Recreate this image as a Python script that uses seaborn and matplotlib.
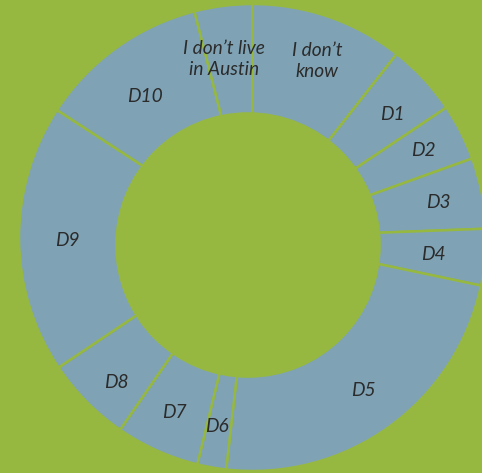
import matplotlib
matplotlib.use("Agg")
import matplotlib.pyplot as plt
from matplotlib.patches import Circle
import seaborn as sns

# Share of responses by council district (percent)
categories = ["I don’t\nknow", "D1", "D2", "D3", "D4", "D5", "D6", "D7",
              "D8", "D9", "D10", "I don’t live\nin Austin"]
shares = [10.6, 5.0, 3.9, 4.9, 3.9, 23.5, 2.0, 5.8, 6.0, 18.6, 11.8, 4.0]

# Label anchors, in pixels from the top-left corner
label_x = [317, 392, 423, 438, 433, 363, 217, 174, 116, 67, 145, 224]
label_y = [61, 114, 150, 202, 255, 390, 426, 413, 382, 241, 96, 59]

GREEN = "#96b840"
BLUE = "#7fa3b5"
INK = "#2b2b2b"

sns.set_style("white")
plt.rcParams["font.family"] = ["Lato", "DejaVu Sans"]

W, H = 482, 473
fig = plt.figure(figsize=(W / 100, H / 100), dpi=100, facecolor=GREEN)
ax = fig.add_axes([0, 0, 1, 1])
ax.set_facecolor(GREEN)

palette = sns.color_palette([BLUE], n_colors=len(shares))
ax.pie(shares, colors=palette, startangle=90, counterclock=False,
       center=(252.5, H - 237.5), radius=233.5,
       wedgeprops=dict(edgecolor=GREEN, linewidth=1.8))

# Donut hole
ax.add_patch(Circle((248, H - 245), 132.8, facecolor=GREEN, edgecolor="none", zorder=5))

for name, x, y in zip(categories, label_x, label_y):
    ax.text(x, H - y, name, ha="center", va="center", fontsize=13.8,
            fontstyle="italic", color=INK, linespacing=1.25, zorder=6)

ax.set_xlim(0, W)
ax.set_ylim(0, H)
ax.set_aspect("equal")
ax.axis("off")

fig.savefig("out.png", dpi=100, facecolor=GREEN)
